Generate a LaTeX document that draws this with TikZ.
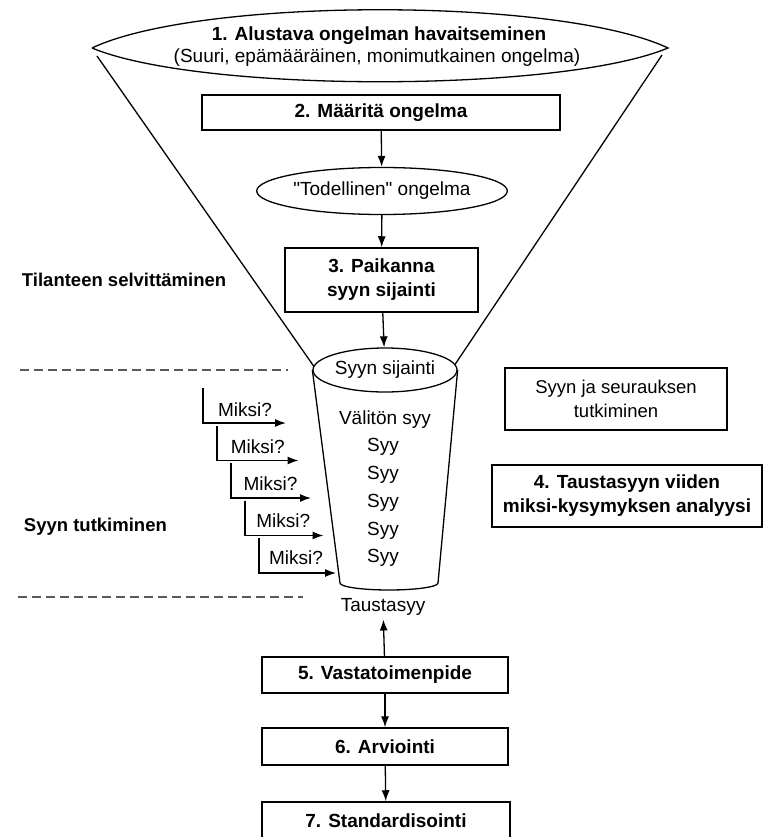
\documentclass[tikz,border=0pt]{standalone}
\usepackage{fontspec}
\setmainfont{Liberation Sans}[Ligatures=TeXOff]
\usetikzlibrary{arrows.meta,shapes.geometric,positioning}

\tikzset{
  stepbox/.style={draw, line width=1.5pt, align=center, inner sep=0pt,
    font=\fontsize{19}{24}\selectfont\bfseries},
  plainbox/.style={stepbox, font=\fontsize{18.5}{24}\selectfont},
  oval/.style={draw, ellipse, line width=1.3pt, inner sep=0pt},
  sidelabel/.style={anchor=west, font=\fontsize{18.5}{22}\selectfont\bfseries},
  sepline/.style={draw=black!65, line width=1.5pt, dash pattern=on 9pt off 5pt}
}

\begin{document}
\begin{tikzpicture}[x=1pt, y=-1pt, >={Latex[length=11pt,width=8pt]}, line width=1.3pt,
  every node/.append style={font=\fontsize{19}{22}\selectfont}]
\useasboundingbox (0,0) rectangle (763,837);

% funnel
\draw (92,48) .. controls (200,-3) and (560,-3) .. (668,48)
   .. controls (560,93) and (200,93) .. (92,48);
\node at (379,36) {\bfseries 1. Alustava ongelman havaitseminen};
\node at (377,58) {(Suuri, epämääräinen, monimutkainen ongelma)};
\draw (97,56)--(315,368);
\draw (662,55)--(454,366);

% main column
\node[stepbox, minimum width=358, minimum height=35] (maarita) at (381,112.5) {2. Määritä ongelma};
\node[oval, minimum width=250, minimum height=47] (todell) at (382,191) {"Todellinen" ongelma};
\node[stepbox, minimum width=193, minimum height=64] (paikanna) at (381.5,280) {3. Paikanna\\syyn sijainti};
\node[oval, minimum width=144, minimum height=44, fill=white] (sijainti) at (385,370) {Syyn sijainti};

\draw[->] (maarita) -- (todell);
\draw[->] (todell) -- (paikanna);
\draw[->] (paikanna) -- (sijainti);

% cup
\draw (sijainti.west) -- (340,583)
   arc[start angle=180, end angle=0, x radius=49, y radius=7] -- (sijainti.east);

\node (valiton) at (385,420) {Välitön syy};
\foreach \k in {1,...,5}
   \node (syy\k) at (383,{447+27.8*(\k-1)}) {Syy};

% miksi steps
\foreach \i in {1,...,5}
{
   \coordinate (mtop\i) at ({203+14*(\i-1)},{388+37.5*(\i-1)});
   \coordinate (mtip\i) at ({286+12.5*(\i-1)},{423+37.5*(\i-1)});
   \draw[->] (mtop\i) |- (mtip\i);
   \node (miksi\i) at ({245+12.75*(\i-1)},{410+37*(\i-1)}) {Miksi?};
}

\node (taustasyy) at (383,607) {Taustasyy};

% lower boxes
\node[stepbox, minimum width=246, minimum height=36] (vasta) at (385,675) {5. Vastatoimenpide};
\node[stepbox, minimum width=246, minimum height=37] (arvio) at (385,746.5) {6. Arviointi};
\node[stepbox, minimum width=248, minimum height=37] (standard) at (386,820.5) {7. Standardisointi};

\draw[->] (vasta) -- (taustasyy);
\draw[->] (vasta) -- (arvio);
\draw[->] (arvio) -- (standard);

% right side
\node[plainbox, minimum width=222, minimum height=62] (seuraus) at (616,399) {Syyn ja seurauksen\\tutkiminen};
\node[stepbox, minimum width=270, minimum height=62] (analyysi) at (627,496) {4. Taustasyyn viiden\\miksi-kysymyksen analyysi};

% left side
\node[sidelabel] (tilanne) at (18,280) {Tilanteen selvittäminen};
\node[sidelabel] (tutkim) at (20,527) {Syyn tutkiminen};
\draw[sepline] (20,370) -- (288,370);
\draw[sepline] (18,597) -- (303,597);
\end{tikzpicture}
\end{document}
